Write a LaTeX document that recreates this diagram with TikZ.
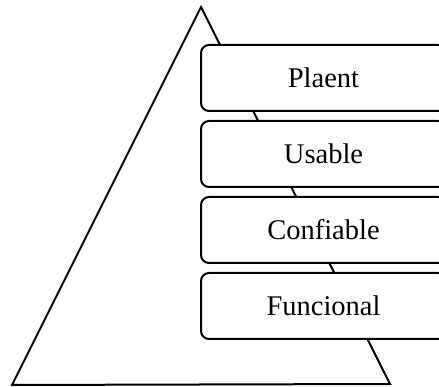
\documentclass[tikz,border=0pt]{standalone}
\usepackage{fontspec}
\setmainfont{Liberation Serif}
\begin{document}
\begin{tikzpicture}[x=1pt,y=1pt,
  levelbox/.style={draw=black, fill=white, line width=2pt, rounded corners=8pt,
    minimum width=245pt, minimum height=66pt, inner sep=0pt,
    font=\fontsize{28.5pt}{30pt}\selectfont}]
\useasboundingbox (0,0) rectangle (439,387);
\coordinate (apex) at (201,380);
\coordinate (bl) at (12,2);
\coordinate (br) at (390,3);
\draw[line width=2pt, line join=miter] (apex) -- (bl) -- (br) -- cycle;
\node[levelbox] (p1) at (323.5,309) {Plaent};
\node[levelbox] (p2) at (323.5,233) {Usable};
\node[levelbox] (p3) at (323.5,157) {Confiable};
\node[levelbox] (p4) at (323.5,81) {Funcional};
\end{tikzpicture}
\end{document}
